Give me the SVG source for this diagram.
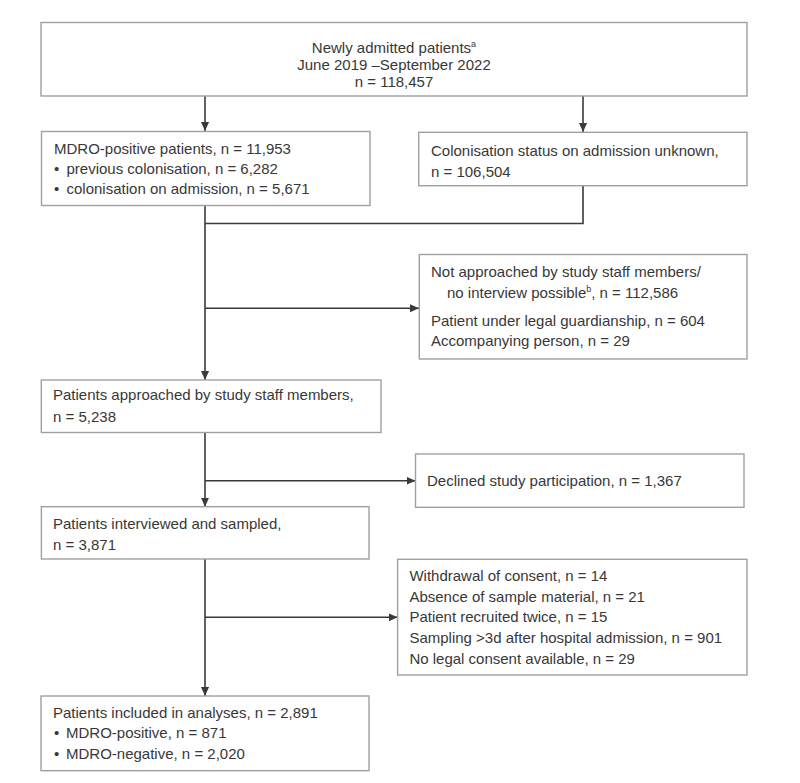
<svg xmlns="http://www.w3.org/2000/svg" width="800" height="783" viewBox="0 0 800 783">
<defs>
<style>
.box{fill:#fff;stroke:#a0a0a0;stroke-width:1.4}
.t{font-family:"Liberation Sans",Arial,sans-serif;font-size:15px;fill:#383838}
.c{fill:none;stroke:#3a3a3a;stroke-width:1.6}
.sup{font-size:9px}
</style>
<marker id="ah" viewBox="0 0 10 10" refX="10" refY="5" markerWidth="9" markerHeight="9" orient="auto" markerUnits="userSpaceOnUse">
<path d="M0,0.5 L10,5 L0,9.5 z" fill="#3a3a3a"/>
</marker>
</defs>
<rect width="800" height="783" fill="#fff"/>
<g id="connectors">
<path class="c" d="M205,96 V131" marker-end="url(#ah)"/>
<path class="c" d="M583,96 V132" marker-end="url(#ah)"/>
<path class="c" d="M583,186 V223.5 H205"/>
<path class="c" d="M205,205.5 V380" marker-end="url(#ah)"/>
<path class="c" d="M205,308.3 H419" marker-end="url(#ah)"/>
<path class="c" d="M205,432.5 V506.7" marker-end="url(#ah)"/>
<path class="c" d="M205,480.7 H415.5" marker-end="url(#ah)"/>
<path class="c" d="M205,559 V696" marker-end="url(#ah)"/>
<path class="c" d="M205,617.3 H397.6" marker-end="url(#ah)"/>
</g>
<g id="n_admitted">
<rect class="box" x="41" y="22.5" width="706" height="73.5"/>
<text class="t" x="394" y="53" text-anchor="middle">Newly admitted patients<tspan class="sup" dy="-6">a</tspan></text>
<text class="t" x="394" y="70" text-anchor="middle">June 2019 –September 2022</text>
<text class="t" x="394" y="87" text-anchor="middle">n = 118,457</text>
</g>
<g id="n_mdro">
<rect class="box" x="41.5" y="131.5" width="328.5" height="74"/>
<text class="t" x="54" y="154">MDRO-positive patients, n = 11,953</text>
<text class="t" y="174"><tspan x="54">•</tspan><tspan x="66.5">previous colonisation, n = 6,282</tspan></text>
<text class="t" y="194"><tspan x="54">•</tspan><tspan x="66.5">colonisation on admission, n = 5,671</tspan></text>
</g>
<g id="n_unknown">
<rect class="box" x="418.7" y="132.3" width="328.3" height="53.4"/>
<text class="t" x="431" y="155.5">Colonisation status on admission unknown,</text>
<text class="t" x="431" y="176.5">n = 106,504</text>
</g>
<g id="n_notapproached">
<rect class="box" x="419.3" y="254.5" width="327.7" height="104.5"/>
<text class="t" x="431" y="277">Not approached by study staff members/</text>
<text class="t" x="447" y="298">no interview possible<tspan class="sup" dy="-6">b</tspan><tspan dy="6">, n = 112,586</tspan></text>
<text class="t" x="431" y="326">Patient under legal guardianship, n = 604</text>
<text class="t" x="431" y="346">Accompanying person, n = 29</text>
</g>
<g id="n_approached">
<rect class="box" x="41.3" y="380" width="339.7" height="52.5"/>
<text class="t" x="53" y="400">Patients approached by study staff members,</text>
<text class="t" x="53" y="422">n = 5,238</text>
</g>
<g id="n_declined">
<rect class="box" x="415.5" y="454" width="328.5" height="53.3"/>
<text class="t" x="427" y="486">Declined study participation, n = 1,367</text>
</g>
<g id="n_interviewed">
<rect class="box" x="41.4" y="506.7" width="327.6" height="52.3"/>
<text class="t" x="53" y="529">Patients interviewed and sampled,</text>
<text class="t" x="53" y="549.5">n = 3,871</text>
</g>
<g id="n_excluded">
<rect class="box" x="397.6" y="559.3" width="349.4" height="115.7"/>
<text class="t" x="409.4" y="581">Withdrawal of consent, n = 14</text>
<text class="t" x="409.4" y="601.5">Absence of sample material, n = 21</text>
<text class="t" x="409.4" y="622">Patient recruited twice, n = 15</text>
<text class="t" x="409.4" y="643">Sampling &gt;3d after hospital admission, n = 901</text>
<text class="t" x="409.4" y="664">No legal consent available, n = 29</text>
</g>
<g id="n_included">
<rect class="box" x="41" y="696" width="328" height="74.7"/>
<text class="t" x="53" y="717.5">Patients included in analyses, n = 2,891</text>
<text class="t" y="738"><tspan x="54">•</tspan><tspan x="66">MDRO-positive, n = 871</tspan></text>
<text class="t" y="759"><tspan x="54">•</tspan><tspan x="66">MDRO-negative, n = 2,020</tspan></text>
</g>
</svg>
